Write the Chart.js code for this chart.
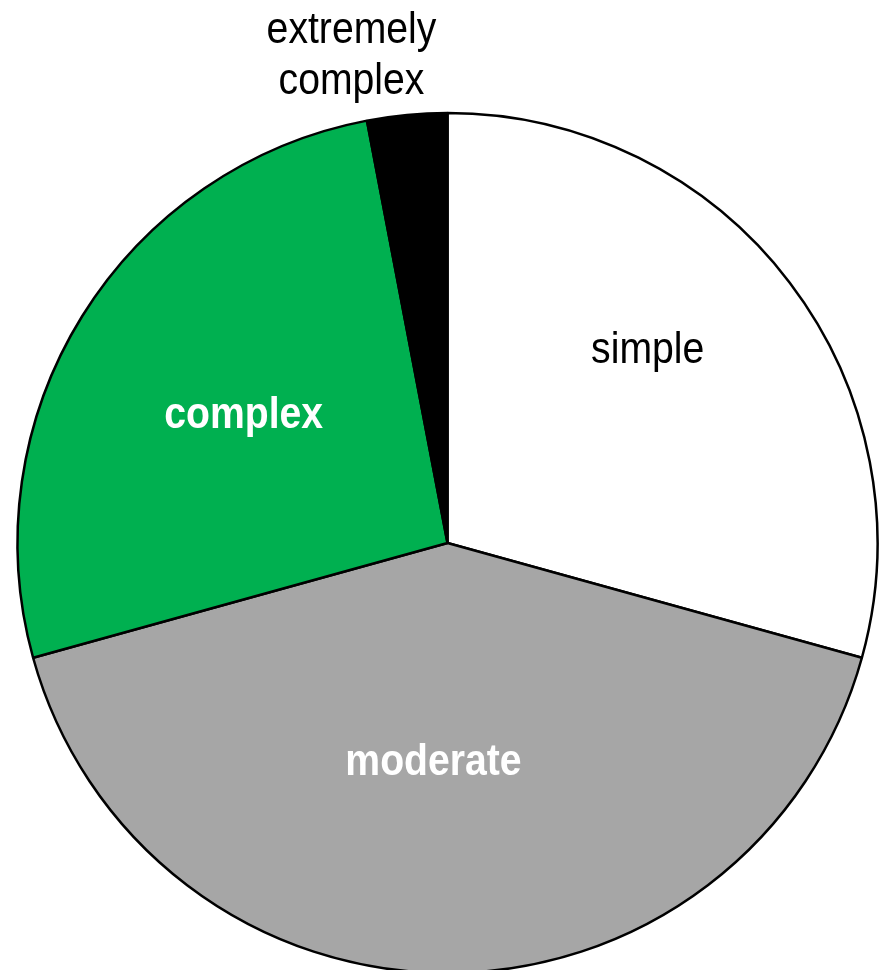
<!DOCTYPE html>
<html>
<head>
<meta charset="utf-8">
<script src="https://cdn.jsdelivr.net/npm/chart.js@4/dist/chart.umd.min.js"></script>
<style>
  html, body { margin: 0; padding: 0; background: #ffffff; }
  #wrap { width: 887px; height: 970px; }
</style>
</head>
<body>
<div id="wrap"><canvas id="c" width="887" height="970"></canvas></div>
<script>
const categories = ["simple", "moderate", "complex", "extremely complex"];
const values = [29.3, 41.4, 26.3, 3.0];
const sliceColors = ["#ffffff", "#a6a6a6", "#00b050", "#000000"];
const labelColors = ["#000000", "#ffffff", "#ffffff", "#000000"];
const labelBold = [false, true, true, false];
const labelLines = [["simple"], ["moderate"], ["complex"], ["extremely", "complex"]];
// radial fraction and angular shift (deg) for each label
const labelPlace = [{r: 0.65, da: -7}, {r: 0.505, da: 3.7}, {r: 0.563, da: 0.8}, {r: 1.16, da: -5.7}];

const FONT = '"Liberation Sans", Arial, sans-serif';
const NARROW = 0.87;

const sliceLabels = {
  id: 'sliceLabels',
  afterDatasetsDraw(chart) {
    const ctx = chart.ctx;
    const meta = chart.getDatasetMeta(0);
    meta.data.forEach((arc, i) => {
      const p = arc.getProps(['x', 'y', 'startAngle', 'endAngle', 'outerRadius'], true);
      const mid = (p.startAngle + p.endAngle) / 2 + labelPlace[i].da * Math.PI / 180;
      const rr = p.outerRadius * labelPlace[i].r;
      const cx = p.x + Math.cos(mid) * rr;
      const cy = p.y + Math.sin(mid) * rr + 3;
      ctx.save();
      ctx.translate(cx, cy);
      ctx.scale(NARROW, 1);
      ctx.fillStyle = labelColors[i];
      ctx.font = (labelBold[i] ? 'bold ' : '') + '45px ' + FONT;
      ctx.textAlign = 'center';
      ctx.textBaseline = 'middle';
      const lines = labelLines[i];
      const lh = 51;
      lines.forEach((t, k) => {
        ctx.fillText(t, 0, (k - (lines.length - 1) / 2) * lh);
      });
      ctx.restore();
    });
  }
};

new Chart(document.getElementById('c'), {
  type: 'pie',
  data: {
    labels: categories,
    datasets: [{
      data: values,
      backgroundColor: sliceColors,
      borderColor: '#000000',
      borderWidth: 2.5,
      radius: 430,
      borderAlign: 'center'
    }]
  },
  options: {
    responsive: false,
    animation: false,
    layout: { padding: { top: 116, bottom: 0, left: 17.5, right: 9.5 } },
    plugins: {
      legend: { display: false },
      tooltip: { enabled: false }
    }
  },
  plugins: [sliceLabels]
});
</script>
</body>
</html>
